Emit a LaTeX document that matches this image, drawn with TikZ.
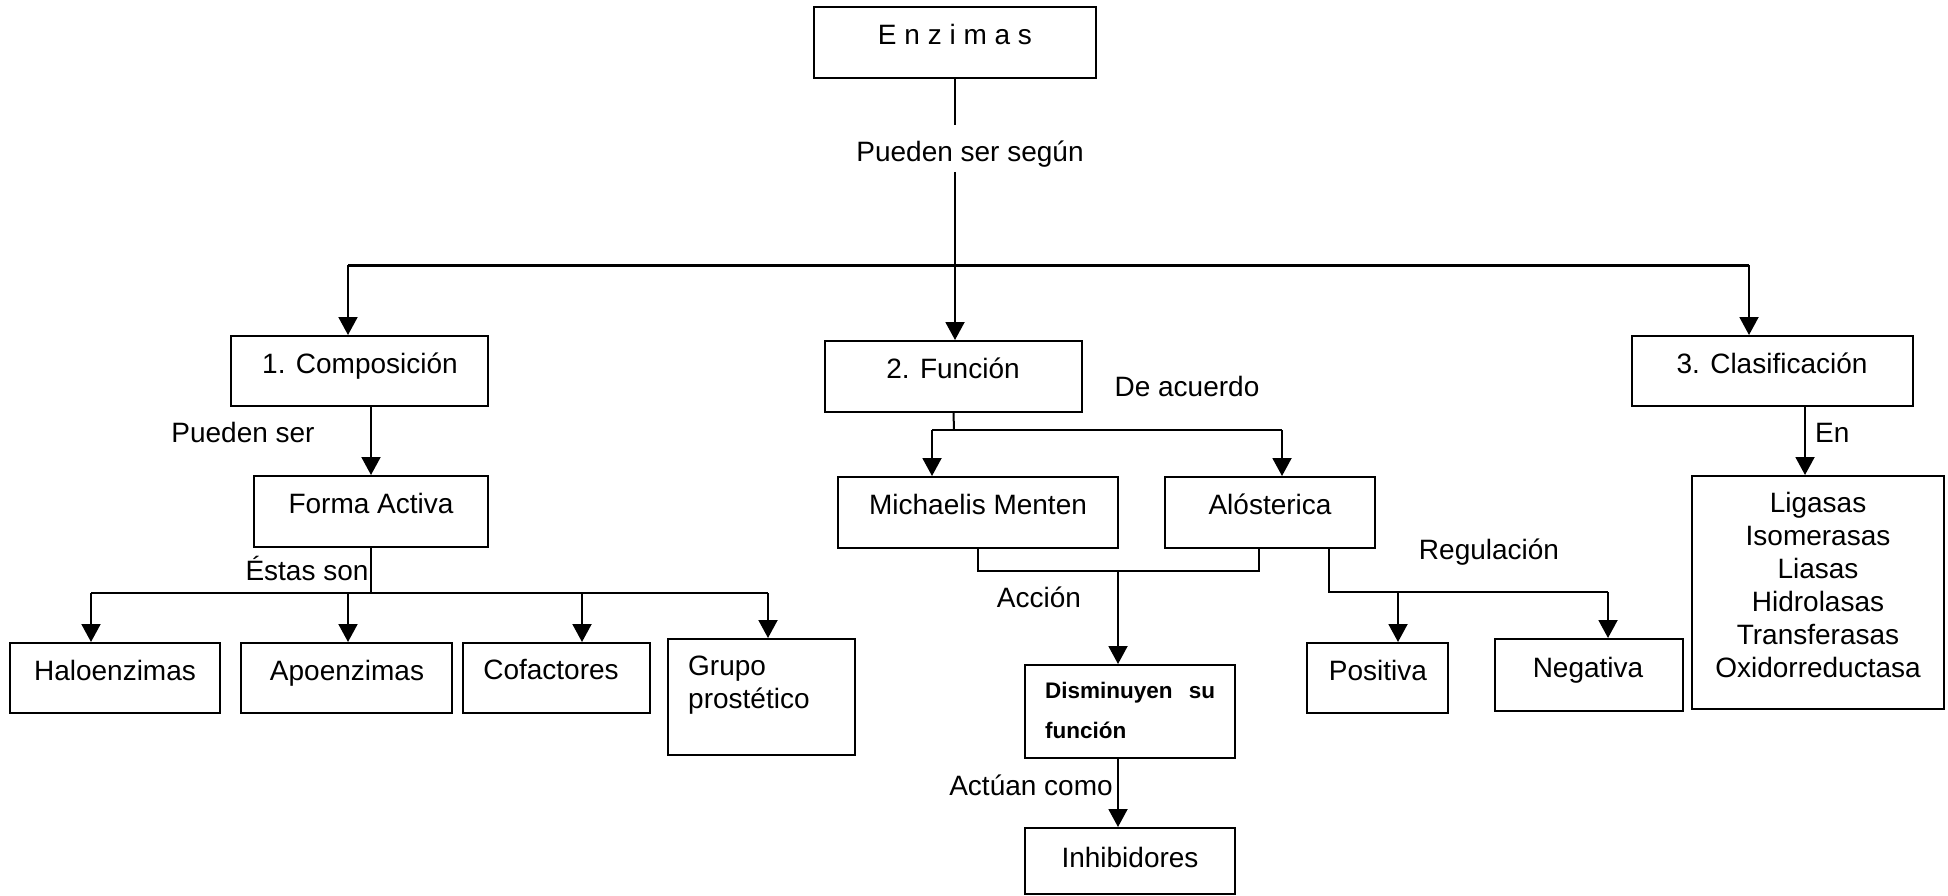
\documentclass[tikz,border=0pt]{standalone}
\usepackage{fontspec}
\setmainfont{Liberation Sans}
\usetikzlibrary{arrows.meta}
\tikzset{
  bx/.style 2 args={draw, line width=2pt, inner sep=0pt, minimum width=#1, minimum height=#2},
  txt/.style={font=\fontsize{28}{33}\selectfont, inner sep=0pt, anchor=base},
  boldtxt/.style={font=\fontsize{22.5}{40}\selectfont\bfseries, inner sep=0pt, anchor=base west, align=left},
  ln/.style={line width=2pt},
  arr/.style={line width=2pt, -{Triangle[length=18pt,width=19pt]}},
}
\begin{document}
\begin{tikzpicture}[x=1pt,y=-1pt]
\useasboundingbox (0,0) rectangle (1948,896);

% ---- boxes ----
\node[bx={282pt}{71pt}]  (enz)   at (955,42.5)   {};
\node[bx={257pt}{70pt}]  (comp)  at (359.5,371)  {};
\node[bx={257pt}{71pt}]  (func)  at (953.5,376.5){};
\node[bx={281pt}{70pt}]  (clas)  at (1772.5,371) {};
\node[bx={234pt}{71pt}]  (forma) at (371,511.5)  {};
\node[bx={210pt}{70pt}]  (halo)  at (115,678)    {};
\node[bx={211pt}{70pt}]  (apo)   at (346.5,678)  {};
\node[bx={187pt}{70pt}]  (cof)   at (556.5,678)  {};
\node[bx={187pt}{116pt}] (grupo) at (761.5,697)  {};
\node[bx={280pt}{71pt}]  (mm)    at (978,512.5)  {};
\node[bx={210pt}{71pt}]  (alo)   at (1270,512.5) {};
\node[bx={210pt}{93pt}]  (dism)  at (1130,711.5) {};
\node[bx={210pt}{66pt}]  (inh)   at (1130,861)   {};
\node[bx={141pt}{70pt}]  (pos)   at (1377.5,678) {};
\node[bx={188pt}{72pt}]  (neg)   at (1589,675)   {};
\node[bx={252pt}{233pt}] (tipos) at (1818,592.5) {};

% ---- texts (multi-line texts sit on the baseline of their last line) ----
\node[txt] (tenz)    at (955,45)   {E n z i m a s};
\node[txt] (pss)     at (970,162)  {Pueden ser según};
\node[txt] (tcomp)   at (360,373)  {1. Composición};
\node[txt] (tps)     at (243,442)  {Pueden ser};
\node[txt] (tforma)  at (371,513)  {Forma Activa};
\node[txt] (testas)  at (307,580)  {Éstas son};
\node[txt] (thalo)   at (115,680)  {Haloenzimas};
\node[txt] (tapo)    at (347,680)  {Apoenzimas};
\node[txt] (tcof)    at (551,679)  {Cofactores};
\node[txt, anchor=base west, align=left] (tgrupo) at (688,708) {Grupo\\prostético};
\node[txt] (tfunc)   at (953,378)  {2. Función};
\node[txt] (tacuerdo) at (1187,396) {De acuerdo};
\node[txt] (tmm)     at (978,514)  {Michaelis Menten};
\node[txt] (talo)    at (1270,514) {Alósterica};
\node[txt] (taccion) at (1039,607) {Acción};
\node[boldtxt] (tdism) at (1045,738) {\makebox[170pt][s]{Disminuyen su}\\función};
\node[txt] (tactuan) at (1031,795) {Actúan como};
\node[txt] (tinh)    at (1130,867) {Inhibidores};
\node[txt] (tpos)    at (1378,680) {Positiva};
\node[txt] (tneg)    at (1588,677) {Negativa};
\node[txt] (treg)    at (1489,559) {Regulación};
\node[txt] (tclas)   at (1772,373) {3. Clasificación};
\node[txt, anchor=base west] (ten) at (1815,442) {En};
\node[txt, align=center] (ttipos) at (1818,677)
  {Ligasas\\Isomerasas\\Liasas\\Hidrolasas\\Transferasas\\Oxidorreductasa};

% ---- top level ----
\coordinate (c1)  at (955,125);
\coordinate (c2)  at (955,172);
\coordinate (hub) at (955,265);
\coordinate (hl)  at (348,265);
\coordinate (hr)  at (1749,265);
\draw[ln] (enz.south) -- (c1);
\draw[ln] (c2) -- (hub);
\draw[line width=3pt] (hl) -- (hr);
\draw[arr] (hl) -- (hl |- comp.north);
\draw[arr] (hub) -- (hub |- func.north);
\draw[arr] (hr) -- (hr |- clas.north);

% ---- composición branch ----
\draw[arr] (forma.north |- comp.south) -- (forma.north);
\coordinate (f1) at (371,593);
\coordinate (a1) at (91,593);
\coordinate (a2) at (348,593);
\coordinate (a3) at (582,593);
\coordinate (a4) at (768,593);
\draw[ln] (forma.south) -- (f1);
\draw[ln] (a1) -- (a4);
\draw[arr] (a1) -- (a1 |- halo.north);
\draw[arr] (a2) -- (a2 |- apo.north);
\draw[arr] (a3) -- (a3 |- cof.north);
\draw[arr] (a4) -- (a4 |- grupo.north);

% ---- función branch ----
\coordinate (g0) at (954,430);
\coordinate (g1) at (932,430);
\coordinate (g2) at (1282,430);
\draw[ln] (func.south) -- (g0);
\draw[ln] (g1) -- (g2);
\draw[arr] (g1) -- (g1 |- mm.north);
\draw[arr] (g2) -- (g2 |- alo.north);

\coordinate (k0) at (1118,571);
\coordinate (k1) at (978,571);
\coordinate (k2) at (1259,571);
\draw[ln] (mm.south) -- (k1) -- (k2) -- (k2 |- alo.south);
\draw[arr] (k0) -- (k0 |- dism.north);
\draw[arr] (k0 |- dism.south) -- (k0 |- inh.north);

\coordinate (r0) at (1329,592);
\coordinate (r1) at (1398,592);
\coordinate (r2) at (1608,592);
\draw[ln] (r0 |- alo.south) -- (r0) -- (r2);
\draw[arr] (r1) -- (r1 |- pos.north);
\draw[arr] (r2) -- (r2 |- neg.north);

% ---- clasificación branch ----
\coordinate (e0) at (1805,0);
\draw[arr] (e0 |- clas.south) -- (e0 |- tipos.north);
\end{tikzpicture}
\end{document}
